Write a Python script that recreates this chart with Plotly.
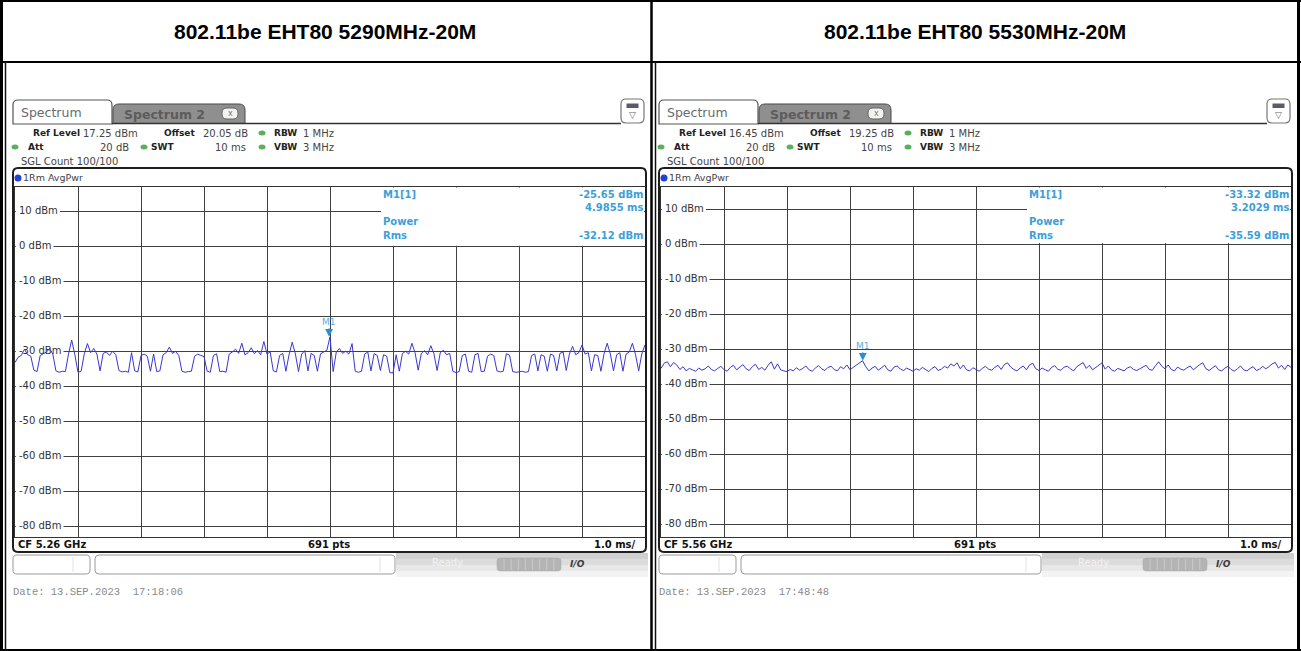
import numpy as np
import plotly.graph_objects as go

W, H = 1301, 651

# ---------------- data ----------------
titles = ["802.11be EHT80 5290MHz-20M", "802.11be EHT80 5530MHz-20M"]
ref_levels = [17.25, 16.45]
ref_text = ["17.25 dBm", "16.45 dBm"]
offset_text = ["20.05 dB", "19.25 dB"]
marker_times = [4.9855, 3.2029]
marker_levels = [-25.65, -33.32]
marker_time_text = ["4.9855 ms", "3.2029 ms"]
rms_text = ["-32.12 dBm", "-35.59 dBm"]
cf_text = ["CF 5.26 GHz", "CF 5.56 GHz"]
date_text = ["Date: 13.SEP.2023\u00a0\u00a017:18:06", "Date: 13.SEP.2023\u00a0\u00a017:48:48"]
level_ticks = [10, 0, -10, -20, -30, -40, -50, -60, -70, -80]
time_ticks = [0, 1, 2, 3, 4, 5, 6, 7, 8, 9, 10]

# trace samples every 0.05 ms (0 .. 10 ms)
left_trace = [
    -33.0, -31.5, -31.0, -29.2, -30.8, -31.2, -35.2, -35.6, -31.0, -30.5, -30.0, -29.0, -30.6, -35.4, -35.8, -35.5, -35.6, -30.5, -26.6, -30.8,
    -35.8, -35.5, -30.5, -27.6, -30.2, -29.0, -30.6, -35.4, -30.4, -30.0, -31.0, -29.8, -30.8, -35.3, -35.7, -35.5, -35.8, -30.2, -35.4, -35.7,
    -31.0, -30.6, -31.2, -35.5, -30.6, -35.6, -35.4, -30.8, -30.2, -28.6, -30.4, -29.8, -31.0, -35.5, -35.8, -35.6, -35.5, -31.2, -30.6, -31.0,
    -31.3, -35.5, -35.8, -31.0, -30.5, -35.6, -35.5, -35.8, -30.6, -30.0, -29.2, -30.4, -27.5, -30.8, -30.2, -28.8, -30.5, -29.6, -30.8, -27.0,
    -30.6, -30.0, -35.4, -35.7, -31.0, -30.4, -35.5, -30.8, -27.2, -30.5, -35.6, -30.6, -29.6, -35.4, -30.4, -31.0, -35.5, -30.5, -30.0, -29.5,
    -25.7, -35.6, -30.0, -29.0, -30.4, -29.8, -30.6, -27.6, -35.5, -35.8, -35.5, -30.6, -30.0, -35.4, -30.5, -31.0, -35.3, -30.8, -31.2, -35.9,
    -36.0, -30.8, -35.5, -30.4, -29.8, -30.6, -27.5, -30.2, -35.2, -30.4, -29.6, -30.8, -28.2, -30.5, -35.3, -30.2, -29.5, -30.8, -30.4, -35.5,
    -35.9, -35.6, -31.0, -30.6, -35.5, -35.8, -30.8, -30.4, -35.6, -35.5, -31.2, -30.6, -31.0, -35.4, -35.7, -35.5, -30.5, -30.9, -35.6, -35.8,
    -35.7, -35.5, -35.8, -35.6, -31.0, -30.6, -35.4, -30.8, -31.2, -35.5, -30.6, -31.0, -35.4, -30.4, -30.0, -35.3, -30.6, -28.4, -30.8, -30.2,
    -28.0, -30.6, -30.2, -35.4, -30.8, -31.0, -35.5, -30.5, -27.5, -30.6, -35.4, -30.8, -30.2, -35.5, -30.6, -30.0, -27.5, -30.8, -35.4, -30.5, -28.0,
]

right_trace = [
    -35.5, -34.0, -33.6, -35.0, -33.8, -34.5, -35.8, -35.0, -36.2, -35.5, -35.9, -36.3, -35.4, -36.0, -35.6, -34.8, -35.8, -36.2, -35.5, -34.9,
    -35.8, -36.3, -35.2, -34.6, -35.9, -35.0, -34.4, -35.6, -36.1, -35.0, -34.3, -35.8, -35.2, -36.0, -34.6, -33.6, -35.7, -34.2, -35.9, -36.2,
    -36.4, -35.8, -36.2, -35.3, -36.0, -35.5, -34.8, -35.9, -36.3, -35.4, -34.7, -35.6, -36.1, -35.2, -34.9, -35.8, -36.2, -35.0, -35.6, -34.5,
    -35.9, -35.2, -34.6, -34.0, -33.3, -35.0, -36.2, -35.4, -34.9, -36.0, -35.3, -34.6, -35.9, -36.3, -35.1, -34.8, -35.7, -36.1, -35.4, -35.9,
    -36.3, -35.6, -36.0, -35.2, -35.8, -36.4, -35.5, -35.0, -36.1, -35.7, -34.9, -35.4, -34.2, -34.8, -33.9, -35.6, -34.5, -35.9, -36.2, -35.3,
    -35.8, -36.3, -35.5, -34.9, -35.7, -36.0, -35.2, -34.6, -35.8, -34.4, -33.9, -35.1, -35.8, -36.2, -35.4, -34.8, -35.9, -34.5, -34.0, -35.6,
    -36.1, -35.4, -35.9, -36.3, -35.2, -34.7, -35.8, -36.0, -35.1, -34.9, -35.6, -36.2, -35.0, -34.3, -33.8, -35.5, -34.6, -35.9, -35.2, -34.5,
    -33.9, -35.7, -34.8, -35.9, -36.3, -35.5, -35.9, -36.2, -35.4, -35.0, -35.8, -36.1, -35.6, -35.2, -34.6, -35.8, -36.0, -34.7, -33.6, -34.9,
    -35.6, -34.5, -35.8, -36.2, -35.1, -35.7, -36.0, -35.3, -34.8, -35.9, -35.0, -34.4, -33.9, -35.6, -36.1, -35.5, -34.7, -35.9, -36.2, -35.4,
    -34.9, -35.8, -36.3, -35.6, -34.8, -35.9, -36.2, -35.5, -35.0, -36.1, -35.7, -34.9, -35.6, -35.0, -34.2, -33.8, -35.4, -34.6, -35.8, -34.5, -35.2,
]
traces_data = [left_trace, right_trace]

# ---------------- helpers ----------------
shapes, annotations = [], []


def X(px):
    return px / W


def Y(py):
    return 1 - py / H


def P(x, y):
    return f"{X(x):.6f},{Y(y):.6f}"


def rpath(x0, y0, x1, y1, r, tl=True, tr=True, br=True, bl=True):
    s = [f"M {P(x0, y0 + (r if tl else 0))}"]
    if tl:
        s.append(f"Q {P(x0, y0)} {P(x0 + r, y0)}")
    s.append(f"L {P(x1 - (r if tr else 0), y0)}")
    if tr:
        s.append(f"Q {P(x1, y0)} {P(x1, y0 + r)}")
    s.append(f"L {P(x1, y1 - (r if br else 0))}")
    if br:
        s.append(f"Q {P(x1, y1)} {P(x1 - r, y1)}")
    s.append(f"L {P(x0 + (r if bl else 0), y1)}")
    if bl:
        s.append(f"Q {P(x0, y1)} {P(x0, y1 - r)}")
    s.append("Z")
    return " ".join(s)


def line(x0, y0, x1, y1, color, width):
    shapes.append(dict(type="line", xref="paper", yref="paper", x0=X(x0), y0=Y(y0), x1=X(x1), y1=Y(y1),
                       line=dict(color=color, width=width), layer="above"))


def rect(x0, y0, x1, y1, fill, lc="rgba(0,0,0,0)", lw=0):
    shapes.append(dict(type="rect", xref="paper", yref="paper", x0=X(x0), y0=Y(y0), x1=X(x1), y1=Y(y1),
                       fillcolor=fill, line=dict(color=lc, width=lw), layer="above"))


def path(d, fill, lc, lw):
    shapes.append(dict(type="path", xref="paper", yref="paper", path=d, fillcolor=fill,
                       line=dict(color=lc, width=lw), layer="above"))


def text(x, y, s, size=10, color="#333333", bold=False, anchor="left", family="DejaVu Sans"):
    if bold:
        s = f"<b>{s}</b>"
    annotations.append(dict(xref="paper", yref="paper", x=X(x), y=Y(y), text=s, showarrow=False,
                            xanchor=anchor, yanchor="middle", borderpad=0,
                            font=dict(size=size, color=color, family=family)))


GRID_TOP, GRID_BOT = 186.6, 536.6
GRID_W = 630.0
PX_PER_DB = 3.5
PX_PER_MS = 63.0
LABEL_SIZE = 10
CW = {"-": 3.6, " ": 3.2, "d": 6.35, "B": 6.9, "m": 9.75}


def label_width(s):
    return sum(CW.get(c, 6.36) for c in s)


fig = go.Figure()
offsets = [0, 646]
blue = "#3838d0"
mk_blue = "#3c9fd8"

for i, off in enumerate(offsets):
    xa = "x" if i == 0 else "x2"
    ya = "y" if i == 0 else "y2"
    gx0 = 15 + off
    ref = ref_levels[i]

    # white boxes (as a filled trace, drawn above the grid and below the signal trace)
    bx, by = [], []

    def dbox(px0, py0, px1, py1):
        t0, t1 = (px0 - gx0) / PX_PER_MS, (px1 - gx0) / PX_PER_MS
        l0, l1 = ref - (py0 - GRID_TOP) / PX_PER_DB, ref - (py1 - GRID_TOP) / PX_PER_DB
        bx.extend([t0, t1, t1, t0, t0, None])
        by.extend([l0, l0, l1, l1, l0, None])

    labels = [f"{v} dBm" for v in level_ticks]
    for v, lab in zip(level_ticks, labels):
        ypx = GRID_TOP + (ref - v) * PX_PER_DB
        dbox(gx0 + 0.8, ypx - 5.5, gx0 + 5 + label_width(lab) + 1.0, ypx + 5.5)
    dbox(381 + off, GRID_TOP + 0.8, 644 + off, GRID_TOP + ref * PX_PER_DB - 1.2)
    fig.add_trace(go.Scatter(x=bx, y=by, mode="lines", fill="toself", fillcolor="white",
                             line=dict(width=0, color="white"), xaxis=xa, yaxis=ya,
                             hoverinfo="skip", showlegend=False))

    fig.add_trace(go.Scatter(x=[4 / PX_PER_MS] * len(level_ticks), y=level_ticks, text=labels, mode="text",
                             textposition="middle right", cliponaxis=False,
                             textfont=dict(size=LABEL_SIZE, color="#333333", family="DejaVu Sans"),
                             xaxis=xa, yaxis=ya, hoverinfo="skip", showlegend=False))
    vals = traces_data[i]
    t = np.linspace(0, 10, len(vals))
    fig.add_trace(go.Scatter(x=t, y=vals, mode="lines", line=dict(color=blue, width=1),
                             xaxis=xa, yaxis=ya, hoverinfo="skip", showlegend=False))

    # marker M1
    annotations.append(dict(xref=xa, yref=ya, x=marker_times[i], y=marker_levels[i], text="M1",
                            showarrow=True, arrowhead=2, arrowsize=1.3, arrowwidth=1.2,
                            arrowcolor="#2a8fd0", ax=0, ay=-15, standoff=0,
                            font=dict(size=9, color="#5aaee0", family="DejaVu Sans")))

    # tabs
    path(rpath(13 + off, 100, 112 + off, 124, 5, br=False, bl=False), "white", "#555555", 1.2)
    path(rpath(113 + off, 104, 245 + off, 123.5, 6, br=False, bl=False), "#8f8f8f", "#4a4a4a", 1)
    line(112 + off, 123.5, 621 + off, 123.5, "#333333", 1.5)
    text(20 + off, 113, "Spectrum", 12.5, "#6a6a6a")
    text(123 + off, 114.5, "Spectrum 2", 12.5, "#5c5c5c", bold=True)
    path(rpath(222 + off, 108, 238 + off, 119, 5), "#f2f2f2", "#666666", 1)
    text(230 + off, 113.2, "x", 8, "#777777", anchor="center")
    path(rpath(621 + off, 99, 644 + off, 123, 5), "white", "#777777", 1.2)
    rect(626.5 + off, 103.5, 638.5 + off, 108, "#5a5a6a")
    text(632.5 + off, 115, "\u25bd", 9, "#666666", anchor="center")

    # setting lines
    y1, y2, y3 = 133, 147, 161.5
    text(32 + off, y1, "Ref Level", 9, "#222222", bold=True)
    text(82 + off, y1, ref_text[i], 10, "#444444")
    text(163 + off, y1, "Offset", 9, "#222222", bold=True)
    text(202 + off, y1, offset_text[i], 10, "#444444")
    text(273 + off, y1, "RBW", 9, "#222222", bold=True)
    text(302 + off, y1, "1 MHz", 10, "#444444")
    text(27 + off, y2, "Att", 9, "#222222", bold=True)
    text(130 + off, y2, "20 dB", 10, "#444444", anchor="right")
    text(150 + off, y2, "SWT", 9, "#222222", bold=True)
    text(247 + off, y2, "10 ms", 10, "#444444", anchor="right")
    text(273 + off, y2, "VBW", 9, "#222222", bold=True)
    text(302 + off, y2, "3 MHz", 10, "#444444")
    text(20 + off, y3, "SGL Count 100/100", 10, "#444444")
    for (dx, dy) in [(262, y1), (15, y2), (144, y2), (262, y2)]:
        shapes.append(dict(type="circle", xref="paper", yref="paper", x0=X(dx - 3.5 + off), x1=X(dx + 3.5 + off),
                           y0=Y(dy + 2.5), y1=Y(dy - 2.5), fillcolor="#5ab05a", line=dict(width=0), layer="above"))

    # frame
    path(rpath(13 + off, 168, 646 + off, 552, 5), "rgba(0,0,0,0)", "#1e1e1e", 2)
    shapes.append(dict(type="circle", xref="paper", yref="paper", x0=X(14.5 + off), x1=X(21.5 + off),
                       y0=Y(181.5), y1=Y(174.5), fillcolor="#2040d8", line=dict(width=0), layer="above"))
    text(22 + off, 177.5, "1Rm AvgPwr", 9.5, "#444444")

    # marker info
    text(382 + off, 194, "M1[1]", 10, mk_blue, bold=True)
    text(644 + off, 194, f"{marker_levels[i]:.2f} dBm", 10, mk_blue, bold=True, anchor="right")
    text(644 + off, 207.5, marker_time_text[i], 10, mk_blue, bold=True, anchor="right")
    text(382 + off, 221.5, "Power", 10, mk_blue, bold=True)
    text(382 + off, 235.5, "Rms", 10, mk_blue, bold=True)
    text(644 + off, 235.5, rms_text[i], 10, mk_blue, bold=True, anchor="right")

    # bottom row
    text(17 + off, 544, cf_text[i], 10, "#111111", bold=True)
    text(329 + off, 544, "691 pts", 10, "#111111", bold=True, anchor="center")
    text(637 + off, 544, "1.0 ms/", 10, "#111111", bold=True, anchor="right")

    # status bar
    for (yy0, yy1, c) in [(553, 559, "#d0d0d0"), (559, 565, "#dcdcdc"), (565, 571, "#e8e8e8"), (571, 577, "#f3f3f3")]:
        rect(396 + off, yy0, 648 + off, yy1, c)
    path(rpath(13 + off, 555, 90 + off, 574, 4), "white", "#9a9a9a", 1)
    path(rpath(95 + off, 555, 395 + off, 574, 4), "white", "#9a9a9a", 1)
    line(73 + off, 557, 73 + off, 572, "#e2e2e2", 1)
    line(380 + off, 557, 380 + off, 572, "#e2e2e2", 1)
    path(rpath(497 + off, 558, 561 + off, 571, 3), "#b4b4b4", "#aaaaaa", 0.5)
    for k in range(1, 9):
        line(497 + off + k * 7.1, 559, 497 + off + k * 7.1, 570, "#cfcfcf", 0.8)
    text(447 + off, 562, "Ready", 10, "#f2f2f2", anchor="center")
    text(577 + off, 563.5, "<i>I/O</i>", 9, "#3a3a3a", bold=True, anchor="center")

    # date
    text(12 + off, 592, date_text[i], 10.5, "#8a8a8a", family="Liberation Mono")

    # title
    text(325 + off * 650 / 646, 32, titles[i], 21, "#000000", bold=True, anchor="center", family="Liberation Sans")

# table lines
line(0, 1, 1301, 1, "#000000", 2)
line(0, 650, 1301, 650, "#000000", 2)
line(1.5, 0, 1.5, 651, "#000000", 3)
line(1298.5, 0, 1298.5, 651, "#000000", 3)
line(0, 62, 1301, 62, "#000000", 2)
line(651.5, 0, 651.5, 651, "#000000", 2.5)
line(5.5, 62, 5.5, 651, "#111111", 1.5)
line(655.5, 62, 655.5, 651, "#111111", 1.5)

axis_common = dict(showgrid=True, gridcolor="#404040", gridwidth=1, zeroline=False, showticklabels=False,
                   ticks="", showline=True, mirror=True, linecolor="#333333", linewidth=1, fixedrange=True)
fig.update_layout(
    width=W, height=H, autosize=False,
    margin=dict(l=0, r=0, t=0, b=0),
    paper_bgcolor="white", plot_bgcolor="rgba(0,0,0,0)",
    hovermode=False, showlegend=False,
    xaxis=dict(domain=[X(15), X(645)], range=[0, 10], tickvals=time_ticks, anchor="y", **axis_common),
    yaxis=dict(domain=[Y(GRID_BOT), Y(GRID_TOP)], range=[ref_levels[0] - 100, ref_levels[0]],
               tickvals=level_ticks, anchor="x", **axis_common),
    xaxis2=dict(domain=[X(661), X(1291)], range=[0, 10], tickvals=time_ticks, anchor="y2", **axis_common),
    yaxis2=dict(domain=[Y(GRID_BOT), Y(GRID_TOP)], range=[ref_levels[1] - 100, ref_levels[1]],
                tickvals=level_ticks, anchor="x2", **axis_common),
    shapes=shapes, annotations=annotations,
)

fig.write_html("out.html", config={"displayModeBar": False, "staticPlot": True},
               post_script="document.body.style.margin='0';document.body.style.overflow='hidden';")
